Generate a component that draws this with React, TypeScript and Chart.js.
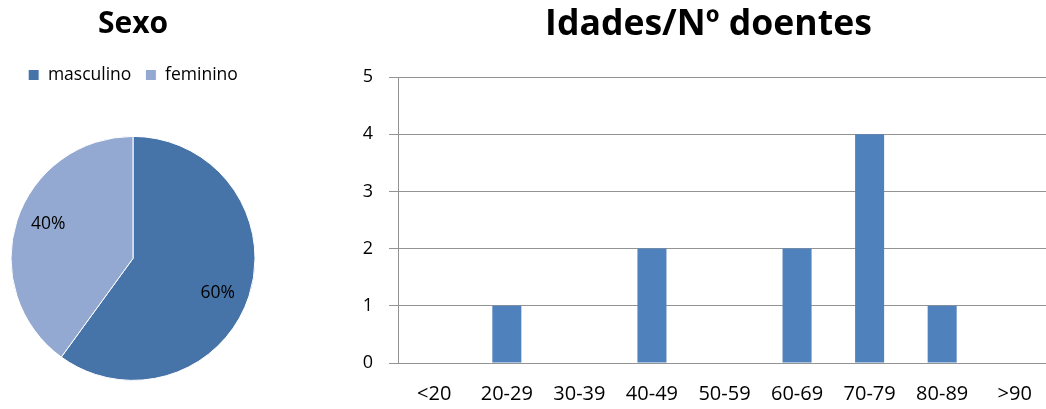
import React, { useEffect, useRef } from 'react';
import { Chart, registerables } from 'chart.js';

Chart.register(...registerables);

const sexLabels = ['masculino', 'feminino'];
const sexValues = [6, 4];
const sexColors = ['#4673A8', '#94A9D1'];

const ageCategories = ['<20', '20-29', '30-39', '40-49', '50-59', '60-69', '70-79', '80-89', '>90'];
const ageValues = [0, 1, 0, 2, 0, 2, 4, 1, 0];
const yTickValues = [0, 1, 2, 3, 4, 5];

const FONT = "'Open Sans', sans-serif";
const GRID = '#939393';

function PieChart() {
  const ref = useRef<HTMLCanvasElement>(null);
  useEffect(() => {
    const labelPlugin = {
      id: 'pieLabels',
      afterDatasetsDraw(chart: any) {
        const ctx = chart.ctx;
        const meta = chart.getDatasetMeta(0);
        const data = chart.data.datasets[0].data as number[];
        const total = data.reduce((a, b) => a + b, 0);
        ctx.save();
        ctx.font = `17.5px ${FONT}`;
        ctx.fillStyle = '#000';
        ctx.textAlign = 'center';
        ctx.textBaseline = 'middle';
        meta.data.forEach((arc: any, i: number) => {
          const p = arc.getProps(['x', 'y', 'startAngle', 'endAngle', 'outerRadius'], true);
          const mid = (p.startAngle + p.endAngle) / 2 + 0.07;
          const r = p.outerRadius * 0.75;
          ctx.fillText(Math.round((data[i] / total) * 100) + '%', p.x + Math.cos(mid) * r, p.y + Math.sin(mid) * r);
        });
        ctx.restore();
      },
    };
    const chart = new Chart(ref.current as HTMLCanvasElement, {
      type: 'pie',
      data: {
        labels: sexLabels,
        datasets: [
          {
            data: sexValues,
            backgroundColor: sexColors,
            borderColor: '#ffffff',
            borderWidth: 1,
            radius: 122,
          } as any,
        ],
      },
      options: {
        animation: false,
        responsive: false,
        layout: { padding: 0 },
        plugins: {
          title: {
            display: true,
            text: 'Sexo',
            color: '#000',
            font: { family: FONT, size: 30, weight: 'bold' },
            padding: { top: 6, bottom: 10.25 },
          },
          legend: {
            position: 'top',
            labels: {
              boxWidth: 11,
              boxHeight: 11,
              padding: 14,
              color: '#000',
              font: { family: FONT, size: 17.5 },
            },
          },
          tooltip: { enabled: false },
        },
      } as any,
      plugins: [labelPlugin],
    });
    return () => chart.destroy();
  }, []);
  return <canvas ref={ref} width={266} height={423} style={{ position: 'absolute', left: 0, top: 0 }} />;
}

function BarChart() {
  const ref = useRef<HTMLCanvasElement>(null);
  useEffect(() => {
    const chart = new Chart(ref.current as HTMLCanvasElement, {
      type: 'bar',
      data: {
        labels: ageCategories,
        datasets: [
          {
            data: ageValues,
            backgroundColor: '#4F81BD',
            borderWidth: 0,
            barPercentage: 0.4,
            categoryPercentage: 1,
            yAxisID: 'y',
          },
        ],
      },
      options: {
        animation: false,
        responsive: false,
        layout: { padding: 0 },
        plugins: {
          legend: { display: false },
          tooltip: { enabled: false },
          title: {
            display: true,
            text: 'Idades/Nº doentes',
            color: '#000',
            font: { family: FONT, size: 35.6, weight: 'bold' },
            padding: { top: 3, bottom: 31.3 },
          },
        },
        scales: {
          x: {
            grid: { display: false, drawTicks: false },
            border: { display: true, color: GRID, width: 1 },
            ticks: { color: '#000', font: { family: FONT, size: 20 }, padding: 19 },
            afterFit: (scale: any) => {
              scale.height = 46;
            },
          },
          y: {
            min: 0,
            max: 5,
            grid: { color: GRID, lineWidth: 1, tickLength: 9, drawTicks: true },
            border: { display: true, color: GRID, width: 1 },
            ticks: { color: '#000', font: { family: FONT, size: 18 }, padding: 16, stepSize: 1 },
            afterBuildTicks: (scale: any) => {
              scale.ticks = yTickValues.map((v) => ({ value: v }));
            },
            afterFit: (scale: any) => {
              scale.width = 68;
            },
          },
          spacer: {
            type: 'linear',
            position: 'right',
            display: true,
            min: 0,
            max: 1,
            grid: { display: false, drawTicks: false },
            border: { display: false },
            ticks: { display: false },
            afterFit: (scale: any) => {
              scale.width = 36;
            },
          },
        },
      } as any,
    });
    return () => chart.destroy();
  }, []);
  return <canvas ref={ref} width={757} height={409} style={{ position: 'absolute', left: 330, top: 0 }} />;
}

export default function App() {
  return (
    <div
      style={{
        position: 'fixed',
        left: 0,
        top: 0,
        width: 1046,
        height: 409,
        overflow: 'hidden',
        background: '#fff',
      }}
    >
      <PieChart />
      <BarChart />
    </div>
  );
}
